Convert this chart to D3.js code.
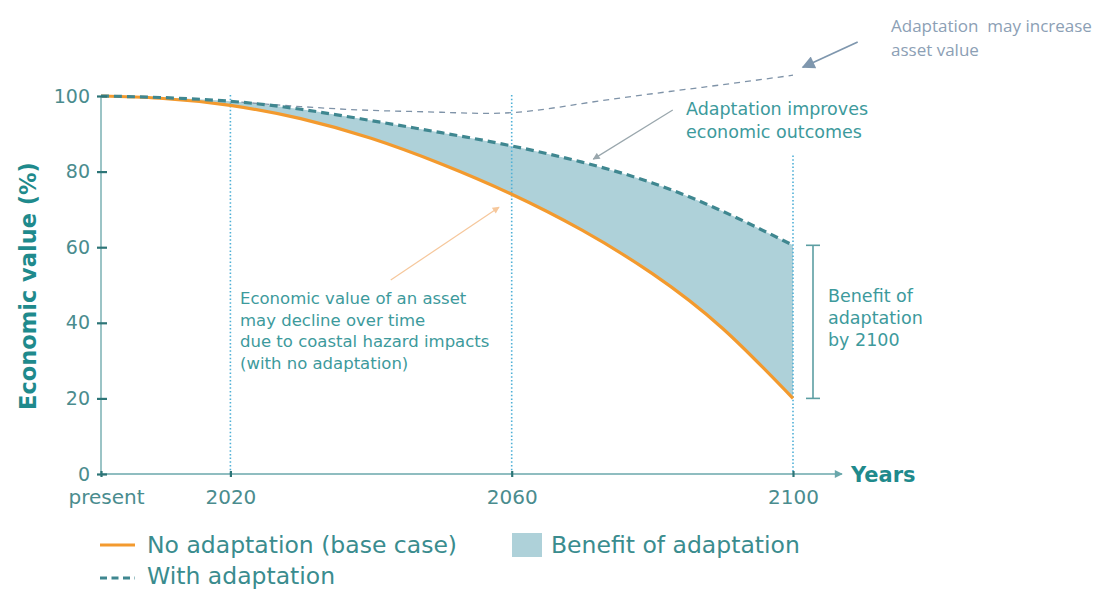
<!DOCTYPE html>
<html>
<head>
<meta charset="utf-8">
<script src="https://cdn.jsdelivr.net/npm/d3@7"></script>
<style>
  body { margin: 0; background: #fff; }
  svg { display: block; }
</style>
</head>
<body>
<svg id="chart" width="1100" height="590"></svg>
<script>
// values
var PRESENT = 2001.6;
var years = [PRESENT, 2010, 2020, 2030, 2040, 2050, 2060, 2070, 2080, 2090, 2100];
var noAdaptation = [100, 99.4, 97.5, 94, 88.8, 82, 74, 64.5, 53, 38.5, 20];
var withAdaptation = [100, 99.6, 98.6, 96.5, 93.5, 90.3, 86.8, 82.5, 77, 69.5, 60.5];
var increaseYears = [2020, 2030, 2040, 2050, 2060, 2070, 2080, 2090, 2100];
var mayIncrease = [98.6, 97.2, 96.2, 95.7, 95.6, 98, 100.6, 103, 105.5];
var yTicks = [0, 20, 40, 60, 80, 100];
var xTicks = [PRESENT, 2020, 2060, 2100];
var markerYears = [2020, 2060, 2100];

var TEAL = "#3d9a9c", DARK = "#2d7577", ORANGE = "#f39a2e", FILL = "#aed1d9",
    DASH = "#3f8790", DOT = "#4fb0d6", FONT = "DejaVu Sans, sans-serif";

var svg = d3.select("#chart");
var x = d3.scaleLinear().domain([PRESENT, 2100]).range([101, 793]);
var y = d3.scaleLinear().domain([0, 100]).range([474, 96]);

var base = years.map(function (yr, i) { return {yr: yr, lo: noAdaptation[i], hi: withAdaptation[i]}; });

var defs = svg.append("defs");
function arrowMarker(id, color, w, h) {
    defs.append("marker")
        .attr("id", id)
        .attr("viewBox", "0 0 10 10")
        .attr("refX", 9).attr("refY", 5)
        .attr("markerWidth", w).attr("markerHeight", h)
        .attr("markerUnits", "userSpaceOnUse")
        .attr("orient", "auto")
        .append("path")
        .attr("d", "M0,0 L10,5 L0,10 Z")
        .attr("fill", color);
}
arrowMarker("axisArrow", "#6aa7ab", 9, 8);
arrowMarker("greyArrow", "#7f97ae", 16, 13);
arrowMarker("thinGrey", "#9aa7ad", 8, 7);
arrowMarker("thinOrange", "#f6c79b", 8, 7);

// benefit area
svg.append("path")
    .datum(base)
    .attr("fill", FILL)
    .attr("d", d3.area()
        .x(function (d) { return x(d.yr); })
        .y0(function (d) { return y(d.lo); })
        .y1(function (d) { return y(d.hi); })
        .curve(d3.curveNatural));

// dotted year markers
var markerTop = {2020: 100, 2060: 100, 2100: 84};
svg.selectAll(".marker")
    .data(markerYears)
    .enter().append("line")
    .attr("x1", function (d) { return x(d); })
    .attr("x2", function (d) { return x(d); })
    .attr("y1", function (d) { return y(markerTop[d]) - 1; })
    .attr("y2", y(0))
    .attr("stroke", DOT)
    .attr("stroke-width", 1.6)
    .attr("stroke-dasharray", "1.5,2.2");

// thin dashed "may increase" line
svg.append("path")
    .datum(increaseYears.map(function (yr, i) { return [yr, mayIncrease[i]]; }))
    .attr("fill", "none")
    .attr("stroke", "#7f93a8")
    .attr("stroke-width", 1.3)
    .attr("stroke-dasharray", "6,5")
    .attr("d", d3.line()
        .x(function (d) { return x(d[0]); })
        .y(function (d) { return y(d[1]); })
        .curve(d3.curveNatural));

var lineLo = d3.line().x(function (d) { return x(d.yr); }).y(function (d) { return y(d.lo); }).curve(d3.curveNatural);
var lineHi = d3.line().x(function (d) { return x(d.yr); }).y(function (d) { return y(d.hi); }).curve(d3.curveNatural);

svg.append("path").datum(base)
    .attr("fill", "none").attr("stroke", ORANGE).attr("stroke-width", 3.2)
    .attr("d", lineLo);
svg.append("path").datum(base)
    .attr("fill", "none").attr("stroke", DASH).attr("stroke-width", 3.2)
    .attr("stroke-dasharray", "8,5")
    .attr("d", lineHi);

// axes
svg.append("line")
    .attr("x1", x(PRESENT)).attr("x2", x(PRESENT))
    .attr("y1", y(0)).attr("y2", y(100))
    .attr("stroke", "#7ab0b3").attr("stroke-width", 1.5);
svg.append("line")
    .attr("x1", x(PRESENT)).attr("x2", 842)
    .attr("y1", y(0)).attr("y2", y(0))
    .attr("stroke", "#6aa7ab").attr("stroke-width", 1.5)
    .attr("marker-end", "url(#axisArrow)");

var yAxis = svg.append("g")
    .attr("transform", "translate(" + x(PRESENT) + ",0)")
    .call(d3.axisLeft(y).tickValues(yTicks).tickSize(5).tickPadding(8));
yAxis.select(".domain").remove();
yAxis.selectAll(".tick line").attr("x1", -4).attr("x2", 6).attr("stroke", DARK).attr("stroke-width", 2.2);
yAxis.selectAll(".tick text")
    .attr("x", -11)
    .attr("fill", "#4a8c8e")
    .style("font-family", FONT).style("font-size", "19px");

var xAxis = svg.append("g")
    .attr("transform", "translate(0," + y(0) + ")")
    .call(d3.axisBottom(x).tickValues(xTicks)
        .tickFormat(function (d) { return d === PRESENT ? "present" : d; })
        .tickSize(3).tickPadding(13));
xAxis.select(".domain").remove();
xAxis.selectAll(".tick line").attr("y1", -3).attr("y2", 3).attr("stroke", DARK).attr("stroke-width", 2.2);
xAxis.selectAll(".tick text")
    .attr("fill", "#4a8c8e")
    .style("font-family", FONT).style("font-size", "20px")
    .attr("dx", function (d) { return d === PRESENT ? 5 : 0; });

svg.append("text")
    .attr("transform", "translate(36,286) rotate(-90)")
    .attr("text-anchor", "middle")
    .attr("fill", "#1f8a8c")
    .style("font-family", FONT).style("font-size", "22.5px").style("font-weight", "bold")
    .text("Economic value (%)");

svg.append("text")
    .attr("x", 851).attr("y", y(0) + 8)
    .attr("fill", "#1f8a8c")
    .style("font-family", FONT).style("font-size", "21px").style("font-weight", "bold")
    .text("Years");

// annotations
function lines(tx, ty, rows, size, step, color, family) {
    var t = svg.append("text")
        .attr("fill", color)
        .style("font-family", family || FONT).style("font-size", size + "px");
    rows.forEach(function (r, i) {
        t.append("tspan").attr("x", tx).attr("y", ty + i * step).text(r);
    });
}

lines(240, 304, ["Economic value of an asset", "may decline over time",
    "due to coastal hazard impacts", "(with no adaptation)"], 16.5, 21.5, TEAL);
lines(686, 115, ["Adaptation improves", "economic outcomes"], 17.5, 23, TEAL);
lines(891, 32, ["Adaptation\u00a0 may increase", "asset value"], 17, 24, "#8ca0b5", "Open Sans, sans-serif");
lines(828, 302, ["Benefit of", "adaptation", "by 2100"], 17.5, 22, TEAL);

svg.append("line")
    .attr("x1", x(2042.8)).attr("y1", y(51.3))
    .attr("x2", x(2058.2)).attr("y2", y(70.6))
    .attr("stroke", "#f6c79b").attr("stroke-width", 1.2)
    .attr("marker-end", "url(#thinOrange)");
svg.append("line")
    .attr("x1", x(2082.9)).attr("y1", y(96.3))
    .attr("x2", x(2071.6)).attr("y2", y(83.3))
    .attr("stroke", "#9aa7ad").attr("stroke-width", 1.2)
    .attr("marker-end", "url(#thinGrey)");
svg.append("line")
    .attr("x1", x(2109.2)).attr("y1", y(114.3))
    .attr("x2", x(2101.4)).attr("y2", y(107.6))
    .attr("stroke", "#7f97ae").attr("stroke-width", 1.8)
    .attr("marker-end", "url(#greyArrow)");

// benefit bracket
var bx = 813;
var lastLo = noAdaptation[noAdaptation.length - 1], lastHi = withAdaptation[withAdaptation.length - 1];
var bracket = svg.append("g").attr("stroke", "#5c9ea2").attr("stroke-width", 1.6);
bracket.append("line").attr("x1", bx).attr("x2", bx).attr("y1", y(lastHi)).attr("y2", y(lastLo));
bracket.append("line").attr("x1", bx - 7).attr("x2", bx + 7).attr("y1", y(lastHi)).attr("y2", y(lastHi));
bracket.append("line").attr("x1", bx - 7).attr("x2", bx + 7).attr("y1", y(lastLo)).attr("y2", y(lastLo));

// legend
var legend = svg.append("g").style("font-family", FONT).style("font-size", "23.5px").attr("fill", "#3a8c8e");
legend.append("line").attr("x1", 100).attr("x2", 135).attr("y1", 545).attr("y2", 545)
    .attr("stroke", ORANGE).attr("stroke-width", 3.2);
legend.append("text").attr("x", 147).attr("y", 553).text("No adaptation (base case)");
legend.append("line").attr("x1", 100).attr("x2", 135).attr("y1", 578).attr("y2", 578)
    .attr("stroke", DASH).attr("stroke-width", 3.2).attr("stroke-dasharray", "7,4.5");
legend.append("text").attr("x", 147).attr("y", 584).text("With adaptation");
legend.append("rect").attr("x", 512).attr("y", 533).attr("width", 30).attr("height", 24).attr("fill", FILL);
legend.append("text").attr("x", 551).attr("y", 553).text("Benefit of adaptation");
</script>
</body>
</html>
